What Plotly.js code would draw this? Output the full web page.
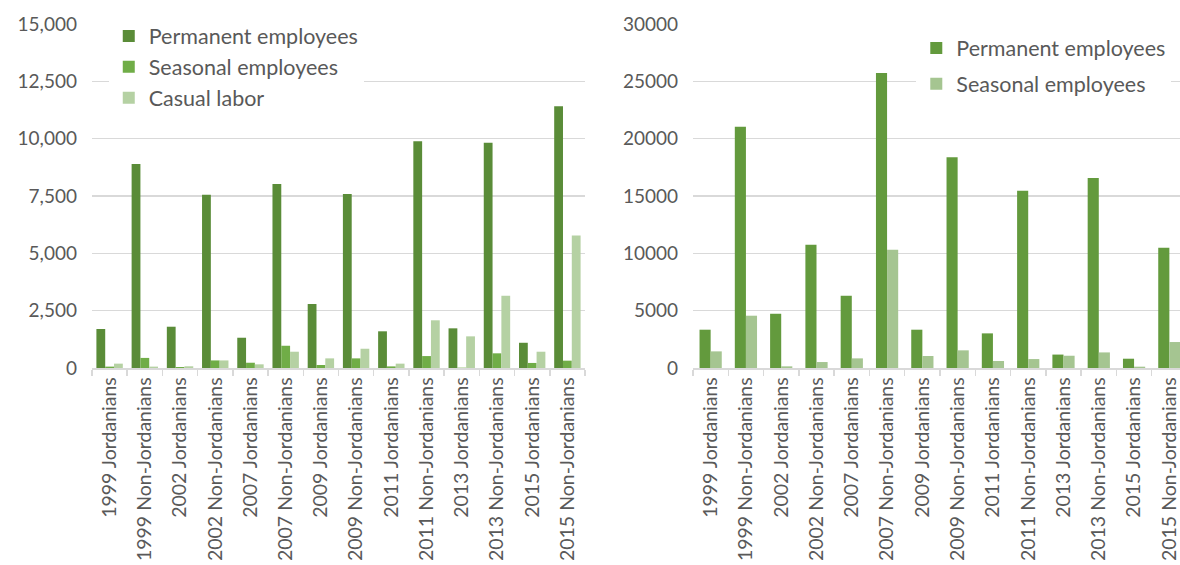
<!DOCTYPE html>
<html>
<head>
<meta charset="utf-8">
<script src="https://cdn.plot.ly/plotly-3.0.1.min.js"></script>
<style>
  html, body { margin: 0; padding: 0; width: 1180px; height: 565px; overflow: hidden; background: #fff; }
  #left { position: absolute; left: 0; top: 0; width: 600px; height: 565px; }
  #right { position: absolute; left: 600px; top: 0; width: 600px; height: 565px; }
</style>
</head>
<body>
<div id="left"></div>
<div id="right"></div>
<script>
const categories = ["1999 Jordanians","1999 Non-Jordanians","2002 Jordanians","2002 Non-Jordanians","2007 Jordanians","2007 Non-Jordanians","2009 Jordanians","2009 Non-Jordanians","2011 Jordanians","2011 Non-Jordanians","2013 Jordanians","2013 Non-Jordanians","2015 Jordanians","2015 Non-Jordanians"];

const leftPermanent = [1700, 8900, 1800, 7550, 1320, 8020, 2790, 7590, 1600, 9890, 1730, 9820, 1100, 11410];
const leftSeasonal  = [60, 440, 45, 330, 230, 970, 130, 420, 70, 520, 15, 640, 220, 320];
const leftCasual    = [190, 60, 75, 330, 160, 710, 420, 840, 190, 2080, 1380, 3150, 710, 5780];

const rightPermanent = [3340, 21050, 4730, 10750, 6300, 25730, 3340, 18380, 3020, 15450, 1170, 16580, 810, 10480];
const rightSeasonal  = [1450, 4560, 145, 520, 840, 10310, 1045, 1540, 610, 780, 1070, 1360, 115, 2265];

const leftTicks = [0, 2500, 5000, 7500, 10000, 12500, 15000];
const rightTicks = [0, 5000, 10000, 15000, 20000, 25000, 30000];

const FONT = "Lato, 'Open Sans', sans-serif";
const TXT = "#595959";
const GRID = "#d9d9d9";

function xaxisCfg(range) {
  return {
    type: "category",
    range: range,
    tickangle: -90,
    tickson: "boundaries",
    ticks: "outside",
    ticklen: 6,
    tickcolor: GRID,
    tickwidth: 1.5,
    showline: true,
    linecolor: GRID,
    linewidth: 1.5,
    showgrid: false,
    tickfont: { family: FONT, size: 19.5, color: TXT },
    fixedrange: true
  };
}
function yaxisCfg(ticks, fmt) {
  return {
    range: [0, ticks[ticks.length - 1]],
    tickvals: ticks,
    tickformat: fmt,
    showgrid: true,
    gridcolor: GRID,
    gridwidth: 1.5,
    zeroline: false,
    showline: false,
    ticks: "",
    ticklabelstandoff: 14,
    tickfont: { family: FONT, size: 19, color: TXT },
    fixedrange: true
  };
}

const leftData = [
  { type: "bar", name: "Permanent employees", x: categories, y: leftPermanent, marker: { color: "#5a8c38" }, legendgroup: "a" },
  { type: "bar", name: "Seasonal employees", x: categories, y: leftSeasonal, marker: { color: "#70ad47" }, legendgroup: "b" },
  { type: "bar", name: "Casual labor", x: categories, y: leftCasual, marker: { color: "#b5d1a3" }, legendgroup: "c" }
];

const leftLayout = {
  width: 600, height: 565,
  margin: { l: 91.5, r: 14.5, t: 24, b: 196.7, pad: 0 },
  paper_bgcolor: "#fff", plot_bgcolor: "#fff",
  barmode: "group", bargap: 0.25, bargroupgap: 0,
  xaxis: xaxisCfg([-0.5, 13.5]),
  yaxis: yaxisCfg(leftTicks, ",d"),
  showlegend: true,
  legend: {
    x: 0.034, xanchor: "left", y: 1.025, yanchor: "top",
    bgcolor: "#fff", borderwidth: 0,
    traceorder: "normal",
    font: { family: FONT, size: 21.5, color: TXT },
    itemclick: false, itemdoubleclick: false
  },
  font: { family: FONT, color: TXT }
};

const rightData = [
  { type: "bar", name: "Permanent employees", x: categories, y: rightPermanent, marker: { color: "#639a3d" }, legendgroup: "a" },
  { type: "bar", name: "Seasonal employees", x: categories, y: rightSeasonal, marker: { color: "#a5c591" }, legendgroup: "b" }
];

const rightLayout = {
  width: 600, height: 565,
  margin: { l: 93, r: 13, t: 24, b: 196.7, pad: 0 },
  paper_bgcolor: "#fff", plot_bgcolor: "#fff",
  barmode: "group", bargap: 0.37, bargroupgap: 0,
  xaxis: xaxisCfg([-0.5, 13.5]),
  yaxis: yaxisCfg(rightTicks, "d"),
  showlegend: true,
  legend: {
    x: 0.452, xanchor: "left", y: 0.99, yanchor: "top",
    bgcolor: "#fff", borderwidth: 0,
    traceorder: "grouped", tracegroupgap: 5,
    font: { family: FONT, size: 21.5, color: TXT },
    itemclick: false, itemdoubleclick: false
  },
  font: { family: FONT, color: TXT }
};

const cfg = { displayModeBar: false, staticPlot: true };
Plotly.newPlot("left", leftData, leftLayout, cfg);
Plotly.newPlot("right", rightData, rightLayout, cfg);
</script>
</body>
</html>
